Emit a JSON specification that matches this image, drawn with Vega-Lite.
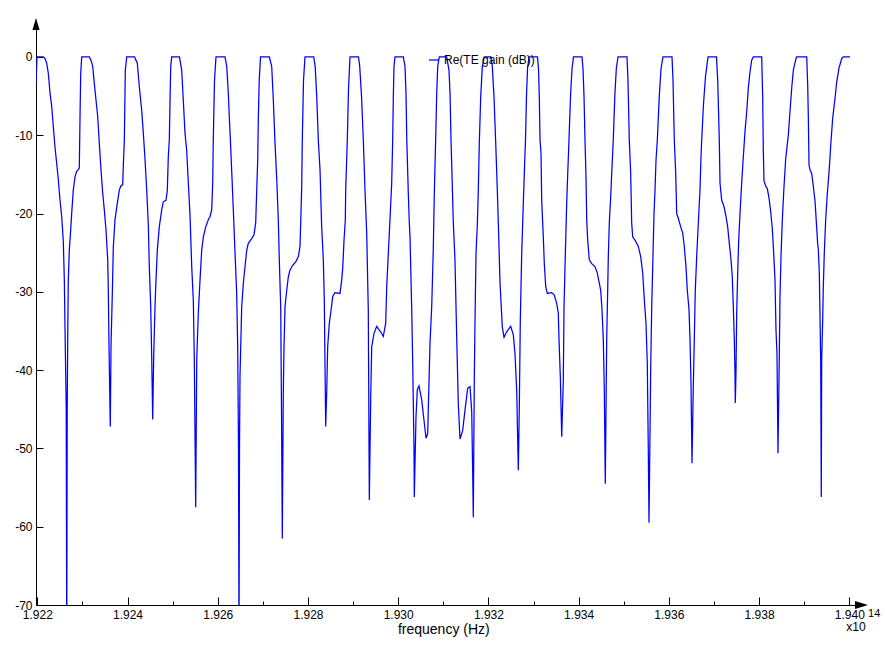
{
"$schema": "https://vega.github.io/schema/vega-lite/v6.json",
"width": 826, "height": 583,
"autosize": {"type": "none"},
"padding": {"left": 36, "top": 22, "right": 23, "bottom": 41},
"background": "white",
"config": {"view": {"stroke": null}, "font": "Liberation Sans"},
"datasets": {"te": [
{"freq":192197.1,"gain":-3.4},{"freq":192199.3,"gain":0},{"freq":192213.3,"gain":0},{"freq":192217.1,"gain":-0.2},{"freq":192220.8,"gain":-0.8},{"freq":192224.4,"gain":-2.1},{"freq":192228.2,"gain":-4.6},{"freq":192231.9,"gain":-6.3},{"freq":192235.5,"gain":-8.9},{"freq":192239.2,"gain":-11.5},{"freq":192243.0,"gain":-13.6},{"freq":192246.6,"gain":-15.7},{"freq":192250.3,"gain":-18.3},{"freq":192254.1,"gain":-20.4},{"freq":192257.6,"gain":-23.5},{"freq":192259.9,"gain":-28.5},{"freq":192261.4,"gain":-34.6},{"freq":192264.1,"gain":-45},{"freq":192265.2,"gain":-75},{"freq":192266.3,"gain":-45},{"freq":192267.6,"gain":-34.6},{"freq":192268.7,"gain":-28.5},{"freq":192270.9,"gain":-24.7},{"freq":192274.0,"gain":-22.1},{"freq":192276.3,"gain":-19.9},{"freq":192279.8,"gain":-17},{"freq":192283.6,"gain":-15.3},{"freq":192287.3,"gain":-14.6},{"freq":192290.9,"gain":-14.4},{"freq":192293.1,"gain":-14.2},{"freq":192294.7,"gain":-7.6},{"freq":192296.2,"gain":-2.1},{"freq":192298.4,"gain":0},
{"freq":192315.3,"gain":0},{"freq":192319.0,"gain":-0.4},{"freq":192322.8,"gain":-1.2},{"freq":192326.4,"gain":-3.4},{"freq":192330.1,"gain":-5.5},{"freq":192333.9,"gain":-7.6},{"freq":192337.4,"gain":-11},{"freq":192341.2,"gain":-14.4},{"freq":192345.0,"gain":-17.4},{"freq":192348.5,"gain":-19.5},{"freq":192352.3,"gain":-22.1},{"freq":192356.1,"gain":-25.9},{"freq":192357.4,"gain":-29.8},{"freq":192358.9,"gain":-36.8},{"freq":192361.8,"gain":-47.2},{"freq":192363.4,"gain":-36.8},{"freq":192366.3,"gain":-30.2},{"freq":192368.5,"gain":-24.3},{"freq":192372.2,"gain":-20.8},{"freq":192377.3,"gain":-18.7},{"freq":192381.8,"gain":-17},{"freq":192384.9,"gain":-16.5},{"freq":192389.3,"gain":-16.3},{"freq":192390.6,"gain":-14},{"freq":192392.9,"gain":-10.7},{"freq":192395.1,"gain":-1.7},{"freq":192398.2,"gain":0},
{"freq":192415.5,"gain":0},{"freq":192421.7,"gain":-0.8},{"freq":192426.1,"gain":-3.8},{"freq":192431.4,"gain":-6.8},{"freq":192435.0,"gain":-9.7},{"freq":192438.7,"gain":-13},{"freq":192442.5,"gain":-17},{"freq":192446.1,"gain":-21.5},{"freq":192448.3,"gain":-26.8},{"freq":192451.4,"gain":-31.9},{"freq":192453.6,"gain":-38.3},{"freq":192455.8,"gain":-46.3},{"freq":192458.0,"gain":-38.3},{"freq":192460.9,"gain":-31.9},{"freq":192463.1,"gain":-28.5},{"freq":192466.0,"gain":-24.7},{"freq":192470.4,"gain":-21.7},{"freq":192475.8,"gain":-19.5},{"freq":192479.3,"gain":-18.5},{"freq":192485.3,"gain":-18.3},{"freq":192488.2,"gain":-17},{"freq":192490.4,"gain":-12.7},{"freq":192492.6,"gain":-10.6},{"freq":192495.7,"gain":-1.2},{"freq":192497.9,"gain":0},
{"freq":192515.2,"gain":0},{"freq":192520.1,"gain":-1.7},{"freq":192523.6,"gain":-5.5},{"freq":192527.4,"gain":-9.7},{"freq":192531.2,"gain":-12},{"freq":192534.7,"gain":-16},{"freq":192538.5,"gain":-20.2},{"freq":192542.3,"gain":-26.8},{"freq":192545.8,"gain":-31},{"freq":192548.0,"gain":-38.3},{"freq":192551.1,"gain":-57.5},{"freq":192553.4,"gain":-38.7},{"freq":192556.9,"gain":-32.7},{"freq":192560.7,"gain":-28.5},{"freq":192564.4,"gain":-24.7},{"freq":192568.0,"gain":-23},{"freq":192573.3,"gain":-21.7},{"freq":192579.1,"gain":-20.8},{"freq":192582.8,"gain":-20.4},{"freq":192586.6,"gain":-19.5},{"freq":192588.8,"gain":-16.1},{"freq":192590.1,"gain":-10.6},{"freq":192592.8,"gain":-3},{"freq":192596.1,"gain":0},
{"freq":192616.1,"gain":0},{"freq":192619.9,"gain":-1.2},{"freq":192623.4,"gain":-4.6},{"freq":192625.6,"gain":-7.6},{"freq":192628.3,"gain":-11},{"freq":192631.6,"gain":-15.5},{"freq":192634.5,"gain":-19.5},{"freq":192638.3,"gain":-25},{"freq":192642.0,"gain":-30.2},{"freq":192644.2,"gain":-37},{"freq":192646.0,"gain":-50},{"freq":192647.1,"gain":-75},{"freq":192648.2,"gain":-50},{"freq":192649.3,"gain":-40.8},{"freq":192653.1,"gain":-31.9},{"freq":192656.7,"gain":-28.9},{"freq":192660.4,"gain":-26.8},{"freq":192664.2,"gain":-24.7},{"freq":192667.7,"gain":-23.8},{"freq":192675.3,"gain":-23.2},{"freq":192680.4,"gain":-22.7},{"freq":192684.1,"gain":-21.2},{"freq":192686.4,"gain":-17},{"freq":192688.6,"gain":-13.2},{"freq":192689.9,"gain":-8},{"freq":192691.9,"gain":-3},{"freq":192694.8,"gain":0},
{"freq":192714.3,"gain":0},{"freq":192719.6,"gain":-1.2},{"freq":192723.2,"gain":-5.5},{"freq":192726.9,"gain":-11},{"freq":192730.7,"gain":-15.5},{"freq":192734.2,"gain":-20.8},{"freq":192736.5,"gain":-26},{"freq":192739.6,"gain":-32},{"freq":192741.3,"gain":-45},{"freq":192743.1,"gain":-61.5},{"freq":192745.3,"gain":-42.9},{"freq":192746.9,"gain":-37},{"freq":192749.1,"gain":-31.9},{"freq":192752.9,"gain":-29.8},{"freq":192756.4,"gain":-28.1},{"freq":192760.2,"gain":-27.2},{"freq":192766.2,"gain":-26.6},{"freq":192773.5,"gain":-26.1},{"freq":192778.6,"gain":-25.5},{"freq":192782.3,"gain":-24.2},{"freq":192783.9,"gain":-21.2},{"freq":192786.1,"gain":-16.6},{"freq":192787.4,"gain":-10.6},{"freq":192790.1,"gain":-3},{"freq":192793.4,"gain":0},
{"freq":192812.7,"gain":0},{"freq":192816.0,"gain":-1.2},{"freq":192819.4,"gain":-5},{"freq":192822.9,"gain":-10.6},{"freq":192826.7,"gain":-14.4},{"freq":192830.4,"gain":-21.7},{"freq":192834.0,"gain":-25.9},{"freq":192836.2,"gain":-31},{"freq":192837.8,"gain":-39.6},{"freq":192839.3,"gain":-47.2},{"freq":192841.5,"gain":-42.9},{"freq":192843.7,"gain":-37},{"freq":192847.3,"gain":-34},{"freq":192850.4,"gain":-32.7},{"freq":192854.8,"gain":-30.6},{"freq":192859.9,"gain":-30.1},{"freq":192871.0,"gain":-30.2},{"freq":192874.8,"gain":-28.5},{"freq":192877.0,"gain":-27},{"freq":192879.9,"gain":-23.4},{"freq":192882.8,"gain":-20.8},{"freq":192883.6,"gain":-17},{"freq":192887.2,"gain":-10.6},{"freq":192889.9,"gain":-4},{"freq":192893.2,"gain":0},
{"freq":192912.0,"gain":0},{"freq":192914.7,"gain":-1.2},{"freq":192918.7,"gain":-5},{"freq":192922.7,"gain":-10.6},{"freq":192926.4,"gain":-17},{"freq":192930.2,"gain":-22.5},{"freq":192933.7,"gain":-32.3},{"freq":192936.0,"gain":-56.6},{"freq":192939.1,"gain":-43.4},{"freq":192941.3,"gain":-37},{"freq":192942.6,"gain":-36.6},{"freq":192946.4,"gain":-35.3},{"freq":192952.4,"gain":-34.4},{"freq":192958.1,"gain":-34.9},{"freq":192961.2,"gain":-35.1},{"freq":192967.0,"gain":-35.7},{"freq":192972.3,"gain":-34},{"freq":192974.5,"gain":-29.4},{"freq":192978.1,"gain":-25.1},{"freq":192981.8,"gain":-20.8},{"freq":192985.6,"gain":-16.1},{"freq":192987.8,"gain":-10.6},{"freq":192989.2,"gain":-5.1},{"freq":192990.7,"gain":-1.2},{"freq":192992.9,"gain":0},
{"freq":193011.3,"gain":0},{"freq":193015.1,"gain":-1.2},{"freq":193017.3,"gain":-4.6},{"freq":193018.9,"gain":-10.2},{"freq":193022.4,"gain":-17.4},{"freq":193024.6,"gain":-21.1},{"freq":193026.2,"gain":-23},{"freq":193030.0,"gain":-32.3},{"freq":193032.2,"gain":-39.3},{"freq":193035.1,"gain":-50.2},{"freq":193035.7,"gain":-56.2},{"freq":193039.5,"gain":-45.9},{"freq":193042.4,"gain":-42.5},{"freq":193046.1,"gain":-42},{"freq":193052.1,"gain":-43.8},{"freq":193057.2,"gain":-46.4},{"freq":193061.7,"gain":-48.7},{"freq":193065.4,"gain":-48.1},{"freq":193066.7,"gain":-45.1},{"freq":193070.5,"gain":-36.6},{"freq":193074.3,"gain":-31.9},{"freq":193077.8,"gain":-24.5},{"freq":193080.1,"gain":-17.4},{"freq":193083.2,"gain":-10.2},{"freq":193085.4,"gain":-4.6},{"freq":193087.6,"gain":-1.2},{"freq":193091.1,"gain":0},
{"freq":193107.5,"gain":0},{"freq":193112.6,"gain":-1.7},{"freq":193114.9,"gain":-4.6},{"freq":193117.1,"gain":-10.6},{"freq":193120.0,"gain":-16.6},{"freq":193122.2,"gain":-21.1},{"freq":193125.9,"gain":-26},{"freq":193129.7,"gain":-35.8},{"freq":193133.3,"gain":-44.4},{"freq":193137.0,"gain":-48.8},{"freq":193143.0,"gain":-47.7},{"freq":193148.1,"gain":-45.1},{"freq":193154.1,"gain":-42.3},{"freq":193159.2,"gain":-42.1},{"freq":193163.0,"gain":-45.3},{"freq":193165.2,"gain":-53.3},{"freq":193166.5,"gain":-58.8},{"freq":193168.7,"gain":-41.3},{"freq":193170.3,"gain":-33.6},{"freq":193172.5,"gain":-25.1},{"freq":193175.4,"gain":-21.5},{"freq":193177.6,"gain":-17},{"freq":193179.8,"gain":-11},{"freq":193182.9,"gain":-5.1},{"freq":193186.5,"gain":-1.2},{"freq":193190.9,"gain":0},
{"freq":193205.7,"gain":0},{"freq":193208.6,"gain":-1.2},{"freq":193212.4,"gain":-5.1},{"freq":193216.2,"gain":-11},{"freq":193219.7,"gain":-17},{"freq":193221.9,"gain":-21.1},{"freq":193225.7,"gain":-28.8},{"freq":193230.8,"gain":-34.5},{"freq":193234.6,"gain":-35.8},{"freq":193240.5,"gain":-35.1},{"freq":193249.4,"gain":-34.4},{"freq":193255.2,"gain":-35.5},{"freq":193258.9,"gain":-37.9},{"freq":193262.7,"gain":-42.6},{"freq":193266.3,"gain":-52.8},{"freq":193268.5,"gain":-44.7},{"freq":193270.7,"gain":-33.6},{"freq":193273.8,"gain":-25.1},{"freq":193276.0,"gain":-21.1},{"freq":193278.9,"gain":-16},{"freq":193282.2,"gain":-10.6},{"freq":193284.4,"gain":-5},{"freq":193286.7,"gain":-1.5},{"freq":193290.0,"gain":0},
{"freq":193308.8,"gain":0},{"freq":193311.0,"gain":-1.5},{"freq":193312.8,"gain":-5},{"freq":193314.4,"gain":-10.6},{"freq":193316.6,"gain":-12.3},{"freq":193318.1,"gain":-18.3},{"freq":193321.7,"gain":-23},{"freq":193323.9,"gain":-26.4},{"freq":193327.0,"gain":-29.3},{"freq":193330.5,"gain":-30.2},{"freq":193340.3,"gain":-30.1},{"freq":193346.1,"gain":-30.4},{"freq":193351.4,"gain":-31.5},{"freq":193354.9,"gain":-32.7},{"freq":193356.5,"gain":-36.1},{"freq":193359.4,"gain":-40.8},{"freq":193362.5,"gain":-48.5},{"freq":193366.0,"gain":-41.3},{"freq":193367.6,"gain":-31.9},{"freq":193369.8,"gain":-26.8},{"freq":193373.5,"gain":-18.7},{"freq":193375.8,"gain":-14.9},{"freq":193378.6,"gain":-10.6},{"freq":193382.0,"gain":-5},{"freq":193385.3,"gain":-1.5},{"freq":193388.6,"gain":0},
{"freq":193407.5,"gain":0},{"freq":193409.7,"gain":-1.5},{"freq":193411.9,"gain":-5},{"freq":193414.1,"gain":-10.6},{"freq":193416.3,"gain":-15.3},{"freq":193417.9,"gain":-20.8},{"freq":193420.1,"gain":-23.4},{"freq":193423.6,"gain":-25.9},{"freq":193429.0,"gain":-26.4},{"freq":193436.3,"gain":-26.8},{"freq":193441.4,"gain":-27.6},{"freq":193445.8,"gain":-28.9},{"freq":193448.9,"gain":-29.8},{"freq":193451.8,"gain":-32.3},{"freq":193454.7,"gain":-36.1},{"freq":193456.9,"gain":-42.5},{"freq":193459.1,"gain":-54.5},{"freq":193462.2,"gain":-36.1},{"freq":193464.4,"gain":-29.8},{"freq":193465.8,"gain":-25.5},{"freq":193468.0,"gain":-21.2},{"freq":193471.1,"gain":-17.8},{"freq":193473.3,"gain":-14.9},{"freq":193476.8,"gain":-10.6},{"freq":193480.2,"gain":-5},{"freq":193483.5,"gain":-1.5},{"freq":193487.3,"gain":0},
{"freq":193507.2,"gain":0},{"freq":193509.4,"gain":-3},{"freq":193512.3,"gain":-10.6},{"freq":193515.4,"gain":-14.9},{"freq":193517.6,"gain":-21.2},{"freq":193519.9,"gain":-23},{"freq":193524.9,"gain":-23.4},{"freq":193532.3,"gain":-24.2},{"freq":193537.6,"gain":-25.5},{"freq":193542.0,"gain":-27.6},{"freq":193545.6,"gain":-31},{"freq":193549.3,"gain":-34},{"freq":193552.2,"gain":-39.1},{"freq":193554.4,"gain":-50},{"freq":193556.0,"gain":-59.5},{"freq":193559.8,"gain":-39.6},{"freq":193562.0,"gain":-31.9},{"freq":193564.2,"gain":-26.8},{"freq":193567.1,"gain":-20},{"freq":193569.3,"gain":-17},{"freq":193571.5,"gain":-13.2},{"freq":193574.4,"gain":-10.6},{"freq":193578.8,"gain":-5},{"freq":193582.6,"gain":-1.5},{"freq":193587.0,"gain":0},
{"freq":193607.0,"gain":0},{"freq":193609.2,"gain":-3},{"freq":193612.1,"gain":-10.6},{"freq":193615.2,"gain":-14.9},{"freq":193617.4,"gain":-20},{"freq":193620.9,"gain":-20.6},{"freq":193626.3,"gain":-21.7},{"freq":193630.7,"gain":-22.5},{"freq":193634.2,"gain":-24.2},{"freq":193638.0,"gain":-26.8},{"freq":193640.9,"gain":-29.8},{"freq":193644.7,"gain":-32.3},{"freq":193646.9,"gain":-36.1},{"freq":193649.1,"gain":-41.7},{"freq":193651.3,"gain":-51.9},{"freq":193654.2,"gain":-42.1},{"freq":193656.4,"gain":-36.1},{"freq":193658.6,"gain":-29.8},{"freq":193661.7,"gain":-25.5},{"freq":193665.3,"gain":-21.2},{"freq":193669.0,"gain":-17},{"freq":193671.3,"gain":-12.7},{"freq":193672.8,"gain":-10.6},{"freq":193676.8,"gain":-6},{"freq":193681.2,"gain":-2.5},{"freq":193686.8,"gain":0},
{"freq":193705.6,"gain":0},{"freq":193708.3,"gain":-3},{"freq":193711.8,"gain":-10.6},{"freq":193713.4,"gain":-16.1},{"freq":193717.1,"gain":-18.3},{"freq":193722.2,"gain":-19.1},{"freq":193726.7,"gain":-20.4},{"freq":193730.4,"gain":-21.7},{"freq":193734.0,"gain":-23.8},{"freq":193737.8,"gain":-25.9},{"freq":193740.6,"gain":-28.1},{"freq":193742.9,"gain":-31.9},{"freq":193745.1,"gain":-36.1},{"freq":193746.6,"gain":-40.4},{"freq":193747.3,"gain":-44.2},{"freq":193748.8,"gain":-40.4},{"freq":193750.4,"gain":-32.7},{"freq":193752.6,"gain":-27.6},{"freq":193754.8,"gain":-23.4},{"freq":193757.7,"gain":-20},{"freq":193761.5,"gain":-16},{"freq":193765.0,"gain":-12.8},{"freq":193768.8,"gain":-9.5},{"freq":193772.6,"gain":-7},{"freq":193776.1,"gain":-4},{"freq":193779.9,"gain":-1.9},{"freq":193783.6,"gain":-0.4},{"freq":193787.2,"gain":0},
{"freq":193805.8,"gain":0},{"freq":193808.0,"gain":-5.1},{"freq":193809.4,"gain":-12},{"freq":193810.9,"gain":-15.8},{"freq":193814.7,"gain":-16.5},{"freq":193818.2,"gain":-16.8},{"freq":193822.0,"gain":-18},{"freq":193825.8,"gain":-19.8},{"freq":193829.3,"gain":-21.9},{"freq":193831.5,"gain":-24.1},{"freq":193835.3,"gain":-28.5},{"freq":193837.5,"gain":-34.9},{"freq":193839.7,"gain":-37.9},{"freq":193841.9,"gain":-50.6},{"freq":193844.8,"gain":-38.3},{"freq":193846.4,"gain":-30.6},{"freq":193848.6,"gain":-25.5},{"freq":193851.5,"gain":-20.8},{"freq":193855.2,"gain":-16.6},{"freq":193859.0,"gain":-13},{"freq":193861.9,"gain":-11.5},{"freq":193864.8,"gain":-10},{"freq":193868.5,"gain":-7},{"freq":193872.3,"gain":-4},{"freq":193875.9,"gain":-1.7},{"freq":193881.8,"gain":-0.2},{"freq":193883.4,"gain":0},
{"freq":193905.6,"gain":0},{"freq":193907.8,"gain":-3.6},{"freq":193909.1,"gain":-7.4},{"freq":193910.7,"gain":-13.8},{"freq":193912.9,"gain":-14.4},{"freq":193916.7,"gain":-14.9},{"freq":193920.2,"gain":-16.5},{"freq":193924.0,"gain":-18.4},{"freq":193927.7,"gain":-21.8},{"freq":193930.0,"gain":-24},{"freq":193931.3,"gain":-24.5},{"freq":193933.5,"gain":-27.6},{"freq":193935.1,"gain":-33.2},{"freq":193936.6,"gain":-38.7},{"freq":193937.9,"gain":-56.2},{"freq":193938.8,"gain":-38.7},{"freq":193941.0,"gain":-33.6},{"freq":193942.4,"gain":-29.3},{"freq":193944.6,"gain":-25},{"freq":193947.7,"gain":-20.7},{"freq":193951.2,"gain":-17.5},{"freq":193955.7,"gain":-14.2},{"freq":193959.4,"gain":-10.8},{"freq":193963.2,"gain":-7.8},{"freq":193968.3,"gain":-5.3},{"freq":193972.1,"gain":-3.2},{"freq":193977.2,"gain":-1.4},{"freq":193983.2,"gain":-0.2},{"freq":193986.7,"gain":0},{"freq":194001.6,"gain":0}
]},
"layer": [
{
"data": {"name": "te"},
"mark": {"type": "line", "clip": true, "strokeWidth": 1.25, "interpolate": "linear"},
"encoding": {
"x": {"field": "freq", "type": "quantitative",
 "scale": {"domain": [192197.1, 194028.15], "nice": false, "zero": false},
 "axis": {
  "values": [192200,192300,192400,192500,192600,192700,192800,192900,193000,193100,193200,193300,193400,193500,193600,193700,193800,193900,194000],
  "labelExpr": "datum.value % 200 == 0 ? format(datum.value / 100000, '.3f') : ''",
  "tickSize": {"condition": {"test": "datum.value % 200 == 0", "value": -8}, "value": -4},
  "labelPadding": 12,
  "domainColor": "black", "tickColor": "black", "labelColor": "black",
  "domainWidth": 1, "tickWidth": 1,
  "labelFont": "Liberation Sans", "labelFontSize": 12,
  "labelFlush": false, "labelOverlap": false, "labelBound": false,
  "grid": false,
  "title": "frequency (Hz)", "titleFont": "Liberation Sans", "titleFontSize": 14, "titleFontWeight": "normal", "titleColor": "black",
  "titleX": 407.3, "titleY": 28, "titleAlign": "center", "titleBaseline": "alphabetic"
 }},
"y": {"field": "gain", "type": "quantitative",
 "scale": {"domain": [-70, 4.47], "nice": false, "zero": false},
 "axis": {
  "values": [-70,-60,-50,-40,-30,-20,-10,0],
  "labelExpr": "'' + datum.value",
  "tickSize": -7, "labelPadding": 11,
  "domainColor": "black", "tickColor": "black", "labelColor": "black",
  "domainWidth": 1, "tickWidth": 1,
  "labelFont": "Liberation Sans", "labelFontSize": 12,
  "labelFlush": false, "labelOverlap": false, "labelBound": false,
  "grid": false, "title": null
 }},
"color": {"datum": "Re(TE gain (dB))", "type": "nominal",
 "scale": {"range": ["#0000ff"]},
 "legend": {"orient": "none", "legendX": 392, "legendY": 32, "title": null, "symbolType": "stroke", "symbolSize": 100, "symbolStrokeWidth": 1.25, "labelFont": "Liberation Sans", "labelFontSize": 12, "labelColor": "black", "padding": 0, "labelOffset": 4}}
}
},
{
"data": {"values": [{}]},
"mark": {"type": "point", "filled": true, "color": "black", "opacity": 1, "strokeWidth": 0, "shape": "M0,-1L0.6,1L-0.6,1Z", "size": 144},
"encoding": {"x": {"datum": 192197.1}, "y": {"datum": 4.2}}
},
{
"data": {"values": [{}]},
"mark": {"type": "point", "filled": true, "color": "black", "opacity": 1, "strokeWidth": 0, "shape": "M1,0L-1,-0.6L-1,0.6Z", "size": 169},
"encoding": {"x": {"datum": 194027.0}, "y": {"datum": -70}}
},
{
"data": {"values": [{}]},
"mark": {"type": "text", "text": "x10", "font": "Liberation Sans", "fontSize": 12, "color": "black", "align": "center", "baseline": "alphabetic", "dy": 26},
"encoding": {"x": {"datum": 194014.9}, "y": {"datum": -70}}
},
{
"data": {"values": [{}]},
"mark": {"type": "text", "text": "14", "font": "Liberation Sans", "fontSize": 11, "color": "black", "align": "left", "baseline": "alphabetic", "dy": 12},
"encoding": {"x": {"datum": 194041.5}, "y": {"datum": -70}}
}
]
}
